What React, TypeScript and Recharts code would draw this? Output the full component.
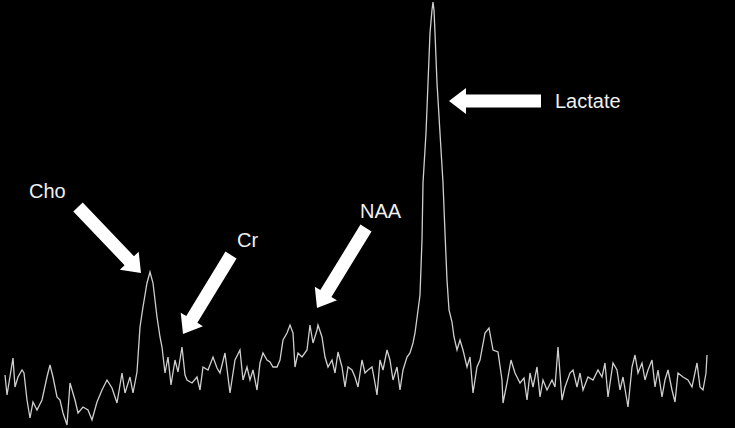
import { LineChart, Line, XAxis, YAxis, ReferenceDot } from "recharts";

const W = 735;
const H = 428;

// chemical shift position (pixel column of the scan) and signal height
const positions = [
  5, 7, 13, 15, 18, 22, 24, 27, 30, 33, 37, 42, 47, 50, 53, 57, 60, 63, 67, 70,
  75, 78, 83, 88, 92, 97, 102, 107, 112, 117, 122, 125, 130, 133, 137, 138, 140, 143, 147, 150,
  153, 157, 160, 162, 165, 168, 171, 175, 178, 182, 185, 187, 192, 197, 200, 203, 208, 213, 217, 220,
  225, 230, 235, 240, 243, 247, 250, 253, 257, 260, 263, 267, 270, 273, 277, 280, 283, 287, 290, 293,
  295, 298, 302, 307, 310, 313, 317, 318, 322, 325, 328, 332, 335, 338, 342, 345, 348, 352, 355, 358,
  362, 365, 368, 372, 375, 377, 380, 383, 387, 390, 393, 397, 400, 403, 407, 410, 413, 415, 417, 420,
  422, 423, 426, 428, 430, 432, 433, 434, 435, 437, 440, 443, 445, 447, 449, 452, 454, 457, 460, 463,
  467, 470, 473, 477, 480, 485, 489, 493, 498, 502, 503, 507, 511, 515, 520, 524, 527, 530, 533, 537,
  540, 543, 547, 552, 555, 558, 562, 565, 570, 573, 577, 580, 583, 588, 593, 598, 602, 605, 608, 613,
  617, 620, 623, 628, 632, 635, 638, 642, 645, 648, 652, 655, 658, 662, 665, 668, 672, 675, 678, 683,
  688, 692, 697, 700, 703, 706, 707,
];

const signal = [
  53, 33, 70, 41, 51, 58, 55, 28, 10, 26, 18, 28, 51, 63, 51, 31, 28, 15, 3, 45,
  28, 15, 21, 18, 8, 26, 38, 48, 40, 25, 55, 35, 51, 35, 56, 71, 101, 121, 145, 156,
  145, 111, 91, 81, 55, 71, 43, 68, 56, 81, 53, 48, 45, 51, 38, 61, 58, 71, 60, 55,
  75, 35, 68, 78, 48, 61, 48, 58, 38, 65, 75, 68, 66, 61, 61, 68, 88, 95, 103, 95,
  61, 75, 71, 78, 103, 85, 98, 103, 91, 71, 61, 68, 55, 76, 61, 41, 61, 58, 51, 41,
  68, 55, 58, 61, 45, 33, 68, 58, 78, 68, 48, 61, 38, 58, 71, 75, 85, 95, 110, 133,
  188, 245, 295, 345, 395, 418, 426, 418, 395, 345, 295, 245, 195, 148, 118, 106, 91, 78, 88, 78,
  61, 71, 35, 61, 68, 95, 100, 78, 76, 48, 25, 45, 68, 55, 45, 50, 28, 55, 41, 61,
  31, 48, 38, 48, 41, 81, 28, 41, 55, 58, 41, 55, 38, 51, 48, 58, 51, 65, 31, 65,
  58, 38, 51, 21, 61, 73, 55, 65, 48, 58, 68, 41, 58, 31, 48, 58, 38, 26, 55, 51,
  48, 41, 65, 41, 38, 55, 73,
];

const spectrum = positions.map((x, i) => ({ x, y: signal[i] }));

// peak annotations: arrow tip (same units as the spectrum), tail offset, label
const arrows = [
  { name: "Cho", tipX: 141, tipY: 155, dx: -63, dy: 66 },
  { name: "Cr", tipX: 183, tipY: 94, dx: 48, dy: 79 },
  { name: "NAA", tipX: 317, tipY: 120, dx: 49, dy: 80 },
  { name: "Lactate", tipX: 449, tipY: 327, dx: 92, dy: 0 },
];

const labels = [
  { name: "Cho", x: 29, y: 230 },
  { name: "Cr", x: 237, y: 181 },
  { name: "NAA", x: 360, y: 210 },
  { name: "Lactate", x: 555, y: 320 },
];

function arrowShape(dx: number, dy: number) {
  return (props: any) => {
    const { cx, cy } = props;
    const len = Math.sqrt(dx * dx + dy * dy);
    // unit vector from tip back to tail (screen coords: dy up => negative)
    const ux = dx / len;
    const uy = -dy / len;
    const px = -uy;
    const py = ux;
    const shaft = 6.5;
    const head = 13;
    const headLen = 17;
    const pt = (a: number, b: number) =>
      `${cx + ux * a + px * b},${cy + uy * a + py * b}`;
    const pts = [
      pt(0, 0),
      pt(headLen, head),
      pt(headLen, shaft),
      pt(len, shaft),
      pt(len, -shaft),
      pt(headLen, -shaft),
      pt(headLen, -head),
    ].join(" ");
    return <polygon points={pts} fill="#ffffff" />;
  };
}

function labelShape(text: string) {
  return (props: any) => (
    <text
      x={props.cx}
      y={props.cy}
      fill="#f0f0f0"
      fontSize={20}
      fontFamily="Liberation Sans, Arial, sans-serif"
    >
      {text}
    </text>
  );
}

export default function App() {
  return (
    <div
      style={{
        position: "fixed",
        top: 0,
        left: 0,
        width: W,
        height: H,
        background: "#000000",
      }}
    >
      <LineChart
        width={W}
        height={H}
        data={spectrum}
        margin={{ top: 0, right: 0, bottom: 0, left: 0 }}
      >
        <XAxis dataKey="x" type="number" domain={[0, W]} hide />
        <YAxis type="number" domain={[0, H]} hide />
        <Line
          type="linear"
          dataKey="y"
          stroke="#cfcfcf"
          strokeWidth={1.3}
          dot={false}
          activeDot={false}
          isAnimationActive={false}
        />
        {arrows.map((a) => (
          <ReferenceDot
            key={a.name}
            x={a.tipX}
            y={a.tipY}
            ifOverflow="visible"
            shape={arrowShape(a.dx, a.dy)}
          />
        ))}
        {labels.map((l) => (
          <ReferenceDot
            key={"l" + l.name}
            x={l.x}
            y={l.y}
            ifOverflow="visible"
            shape={labelShape(l.name)}
          />
        ))}
      </LineChart>
    </div>
  );
}
